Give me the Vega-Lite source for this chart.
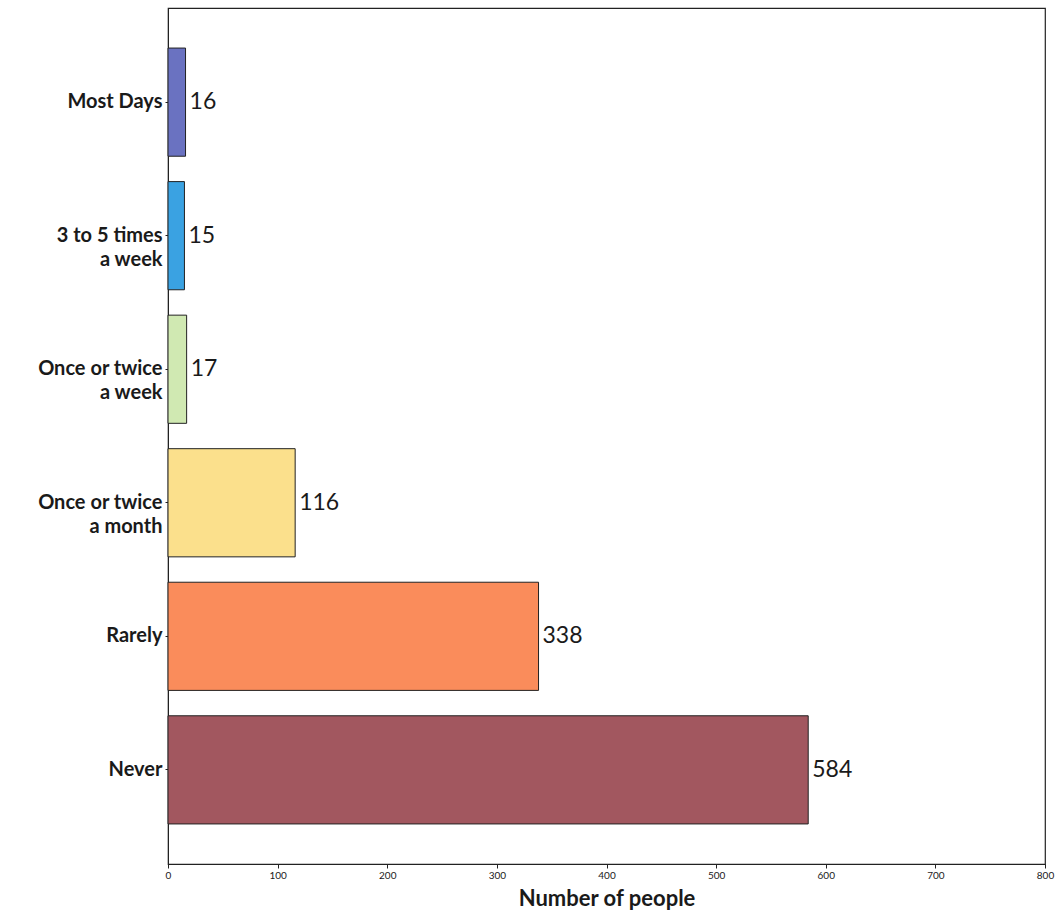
{
  "$schema": "https://vega.github.io/schema/vega-lite/v6.json",
  "autosize": "none",
  "padding": {"left": 168, "top": 8, "right": 13, "bottom": 52},
  "width": 877,
  "height": 856,
  "background": "white",
  "config": {
    "view": {"stroke": "#222", "strokeWidth": 1.2},
    "font": "Lato"
  },
  "data": {
    "values": [
      {"freq": "Most Days", "count": 16, "color": "#6a72c1"},
      {"freq": "3 to 5 times a week", "count": 15, "color": "#3aa2e2"},
      {"freq": "Once or twice a week", "count": 17, "color": "#d0e9b2"},
      {"freq": "Once or twice a month", "count": 116, "color": "#fbe08c"},
      {"freq": "Rarely", "count": 338, "color": "#fa8c5b"},
      {"freq": "Never", "count": 584, "color": "#a2575f"}
    ]
  },
  "encoding": {
    "y": {
      "field": "freq",
      "type": "nominal",
      "sort": null,
      "scale": {"paddingInner": 0.19, "paddingOuter": 0.3},
      "axis": {
        "title": null,
        "labelFont": "Lato",
        "labelFontWeight": "bold",
        "labelFontSize": 20,
        "labelColor": "#1a1a1a",
        "labelLineHeight": 24,
        "labelPadding": 3,
        "tickSize": 3,
        "tickColor": "#222",
        "domainColor": "#222",
        "labelExpr": "datum.value == '3 to 5 times a week' ? ['3 to 5 times', 'a week'] : datum.value == 'Once or twice a week' ? ['Once or twice', 'a week'] : datum.value == 'Once or twice a month' ? ['Once or twice', 'a month'] : datum.value"
      }
    },
    "x": {
      "field": "count",
      "type": "quantitative",
      "scale": {"domain": [0, 800], "nice": false},
      "axis": {
        "title": "Number of people",
        "titleFont": "Lato",
        "titleFontSize": 22,
        "titleFontWeight": "bold",
        "titleColor": "#1a1a1a",
        "titlePadding": 8,
        "values": [0, 100, 200, 300, 400, 500, 600, 700, 800],
        "labelFontSize": 10,
        "labelColor": "#1a1a1a",
        "labelFlush": false,
        "tickSize": 4,
        "tickColor": "#222",
        "domainColor": "#222",
        "grid": false
      }
    }
  },
  "layer": [
    {
      "mark": {"type": "bar", "stroke": "#222", "strokeWidth": 1},
      "encoding": {
        "color": {"field": "color", "type": "nominal", "scale": null}
      }
    },
    {
      "mark": {"type": "text", "align": "left", "baseline": "middle", "dx": 4, "fontSize": 23, "font": "Lato", "color": "#1a1a1a"},
      "encoding": {
        "text": {"field": "count", "type": "quantitative"}
      }
    }
  ]
}
